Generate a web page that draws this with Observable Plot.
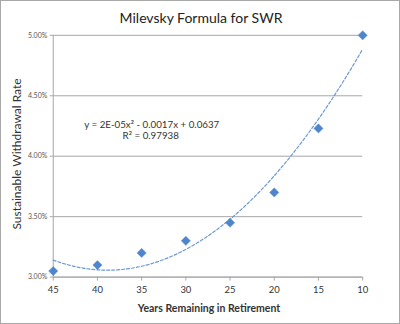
<!DOCTYPE html>
<html><head><meta charset="utf-8">
<script src="https://cdn.jsdelivr.net/npm/d3@7"></script>
<script src="https://cdn.jsdelivr.net/npm/@observablehq/plot@0.6"></script>
<style>
html,body{margin:0;padding:0;background:#fff;}
#wrap{position:relative;width:400px;height:324px;box-sizing:border-box;border:1px solid #a8a8a8;overflow:hidden;font-family:Lato,"Open Sans",sans-serif;}
#wrap svg{position:absolute;left:-1px;top:-1px;}
.lbl{position:absolute;white-space:nowrap;color:#222;}
#title{left:0;width:400px;top:8px;text-align:center;font-size:14px;}
#xlab{left:0;width:416px;top:301px;text-align:center;font-size:10.5px;font-weight:bold;color:#333;}
#ylab{left:15px;top:153px;transform:translate(-50%,-50%) rotate(-90deg);font-size:12px;color:#333;}
</style>
</head><body>
<div id="wrap">
<div class="lbl" id="title">Milevsky Formula for SWR</div>
<div class="lbl" id="xlab">Years Remaining in Retirement</div>
<div class="lbl" id="ylab">Sustainable Withdrawal Rate</div>
</div>
<script>
const years = [45, 40, 35, 30, 25, 20, 15, 10];
const rates = [0.0305, 0.0310, 0.0320, 0.0330, 0.0345, 0.0370, 0.0423, 0.0500];
const xTicks = [45, 40, 35, 30, 25, 20, 15, 10];
const yTicks = [0.03, 0.035, 0.04, 0.045, 0.05];
const equationLines = ["y = 2E-05x² - 0.0017x + 0.0637", "R² = 0.97938"];

const points = years.map((x, i) => ({x, y: rates[i]}));

// Least-squares quadratic trendline (as in the source chart) from the data
function quadFit(xs, ys) {
  const n = xs.length;
  let S = [0,0,0,0,0], T = [0,0,0];
  for (let i = 0; i < n; i++) {
    const x = xs[i], y = ys[i];
    for (let k = 0; k < 5; k++) S[k] += Math.pow(x, k);
    for (let k = 0; k < 3; k++) T[k] += Math.pow(x, k) * y;
  }
  const A = [[S[0],S[1],S[2],T[0]],[S[1],S[2],S[3],T[1]],[S[2],S[3],S[4],T[2]]];
  for (let c = 0; c < 3; c++) {
    for (let r = c + 1; r < 3; r++) {
      const f = A[r][c] / A[c][c];
      for (let k = c; k < 4; k++) A[r][k] -= f * A[c][k];
    }
  }
  const b = [0,0,0];
  for (let r = 2; r >= 0; r--) {
    let s = A[r][3];
    for (let k = r + 1; k < 3; k++) s -= A[r][k] * b[k];
    b[r] = s / A[r][r];
  }
  return b;
}
const coef = quadFit(years, rates);
const trend = d3.range(45, 9.99, -0.25).map(x => ({x, y: coef[0] + coef[1]*x + coef[2]*x*x}));

const chart = Plot.plot({
  width: 400, height: 324,
  marginLeft: 53, marginRight: 36, marginTop: 35, marginBottom: 46,
  style: {fontFamily: "Lato, 'Open Sans', sans-serif", background: "transparent", overflow: "visible"},
  x: {domain: [45, 10]},
  y: {domain: [0.03, 0.05]},
  marks: [
    Plot.gridY(yTicks, {stroke: "#a6a6a6", strokeOpacity: 1, strokeWidth: 1}),
    Plot.axisY(yTicks, {tickFormat: d => (d*100).toFixed(2) + "%", tickSize: 3, tickPadding: 3, fontSize: 7, stroke: "#a6a6a6", color: "#555", label: null}),
    Plot.ruleX([45], {stroke: "#a6a6a6"}),
    Plot.ruleY([0.03], {stroke: "#a6a6a6"}),
    Plot.axisX(xTicks, {tickSize: 4, tickPadding: 5, fontSize: 9.5, stroke: "#a6a6a6", color: "#333", label: null}),
    Plot.line(trend, {x: "x", y: "y", stroke: "#6e98d6", strokeWidth: 1.2, strokeDasharray: "3,2"}),
    Plot.dot(points, {x: "x", y: "y", symbol: "diamond2", r: 4.2, fill: "#4f85cc", stroke: "#6a97d4", strokeWidth: 0.5}),
    Plot.text([equationLines[0]], {frameAnchor: "top-left", dx: 99, dy: 86.5, textAnchor: "middle", fontSize: 9.8, fill: "#333"}),
    Plot.text([equationLines[1]], {frameAnchor: "top-left", dx: 98, dy: 97, textAnchor: "middle", fontSize: 9.8, fill: "#333"})
  ]
});
document.getElementById("wrap").appendChild(chart);
</script>
</body></html>
